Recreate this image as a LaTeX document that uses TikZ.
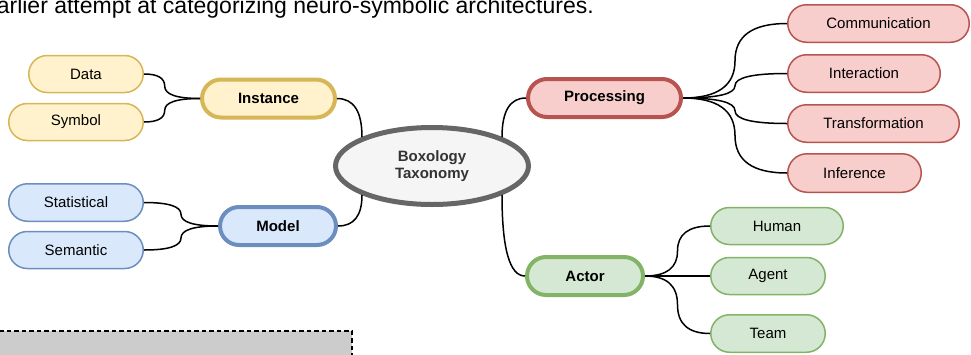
\documentclass[tikz,border=0pt]{standalone}
\usepackage{fontspec}
\setmainfont{Liberation Sans}
\usetikzlibrary{shapes.misc,shapes.geometric,calc}
\definecolor{yfill}{HTML}{FFF2CC}\definecolor{ystroke}{HTML}{D6B656}
\definecolor{bfill}{HTML}{DAE8FC}\definecolor{bstroke}{HTML}{6C8EBF}
\definecolor{rfill}{HTML}{F8CECC}\definecolor{rstroke}{HTML}{B85450}
\definecolor{gfill}{HTML}{D5E8D4}\definecolor{gstroke}{HTML}{82B366}
\definecolor{efill}{HTML}{F5F5F5}\definecolor{estroke}{HTML}{666666}
\definecolor{etext}{HTML}{333333}
\definecolor{boxgray}{HTML}{CCCCCC}
\tikzset{
  leaf/.style={rounded rectangle, line width=1.5pt, inner sep=0pt,
    font=\fontsize{15}{18}\selectfont, minimum height=37pt},
  branch/.style={rounded rectangle, line width=4pt, inner sep=0pt,
    font=\fontsize{15}{18}\selectfont\bfseries, minimum height=38pt},
  yel/.style={draw=ystroke, fill=yfill},
  blu/.style={draw=bstroke, fill=bfill},
  red/.style={draw=rstroke, fill=rfill},
  grn/.style={draw=gstroke, fill=gfill},
  conn/.style={draw=black, line width=1.5pt},
}
\newcommand{\mmedge}[3]{%
  \draw[conn] let \p1=(#1.east), \p2=(#2.west), \p3=($(\p1)!#3!(\p2)$), \p4=($(\p1)!0.5!(\p2)$) in
  (\p1) .. controls ({\x1+2/3*(\x3-\x1)},\y1) and (\x3,{\y4+2/3*(\y1-\y4)}) .. (\x3,\y4)
  .. controls (\x3,{\y4+2/3*(\y2-\y4)}) and ({\x2+2/3*(\x3-\x2)},\y2) .. (\p2);}
\newcommand{\rootedge}[2]{%
  \draw[conn] let \p1=(#1), \p2=(#2) in
  (\p1) .. controls ({\x1+2/3*(\x2-\x1)},\y1) and (\x2,{\y2+2/3*(\y1-\y2)}) .. (\p2);}
\begin{document}
\begin{tikzpicture}[x=1pt,y=-1pt]
\useasboundingbox (0,0) rectangle (971,354);
\clip (0,0) rectangle (971,354);
% caption
\node[anchor=base east, inner sep=0pt, font=\fontsize{23}{26}\selectfont] (cap) at (594,13.5)
  {earlier attempt at categorizing neuro-symbolic architectures.};
% gray dashed box
\fill[boxgray] (-5,331) rectangle (352,360);
\draw[line width=1.5pt, dash pattern=on 4.5pt off 3pt] (-1,331) -- (352,331) -- (352,360);
% root
\node[ellipse, draw=estroke, fill=efill, line width=5pt, inner sep=0pt,
  minimum width=193pt, minimum height=77pt, text=etext, align=center,
  font=\fontsize{15}{17.5}\selectfont\bfseries] (root) at (432,166) {Boxology\\Taxonomy};
% branches
\node[branch, yel, minimum width=133pt] (instance) at (268.5,98.5) {Instance};
\node[branch, blu, minimum width=116pt] (model) at (278,226) {Model};
\node[branch, red, minimum width=153pt] (proc) at (604.5,98) {Processing};
\node[branch, grn, minimum width=116pt] (actor) at (585,276) {Actor};
% leaves
\node[leaf, yel, minimum width=114.5pt] (data) at (86,74) {Data};
\node[leaf, yel, minimum width=134.5pt] (symbol) at (76,122) {Symbol};
\node[leaf, blu, minimum width=134.5pt, minimum height=37.5pt] (stat) at (76,202.5) {Statistical};
\node[leaf, blu, minimum width=134.5pt] (sem) at (76,250) {Semantic};
\node[leaf, red, minimum width=181.5pt, minimum height=37.5pt] (comm) at (878.5,23.5) {Communication};
\node[leaf, red, minimum width=152.5pt, minimum height=37.5pt] (inter) at (864,73.5) {Interaction};
\node[leaf, red, minimum width=171.5pt, minimum height=37.5pt] (trans) at (873.5,123.5) {Transformation};
\node[leaf, red, minimum width=133.5pt, minimum height=38.5pt] (infer) at (854.5,173) {Inference};
\node[leaf, grn, minimum width=132.5pt] (human) at (777,226) {Human};
\node[leaf, grn, minimum width=114.5pt] (agent) at (768,276) {Agent};
\node[leaf, grn, minimum width=114.5pt, minimum height=37.5pt] (team) at (768,333.5) {Team};
% connectors
\rootedge{instance.east}{root.north west}
\rootedge{model.east}{root.south west}
\rootedge{proc.west}{root.north east}
\rootedge{actor.west}{root.south east}
\mmedge{data}{instance}{0.37}
\mmedge{symbol}{instance}{0.37}
\mmedge{stat}{model}{0.5}
\mmedge{sem}{model}{0.5}
\mmedge{proc}{comm}{0.5}
\mmedge{proc}{inter}{0.5}
\mmedge{proc}{trans}{0.5}
\mmedge{proc}{infer}{0.5}
\mmedge{actor}{human}{0.5}
\draw[conn] (actor.east) -- (agent.west);
\mmedge{actor}{team}{0.5}
\end{tikzpicture}
\end{document}
